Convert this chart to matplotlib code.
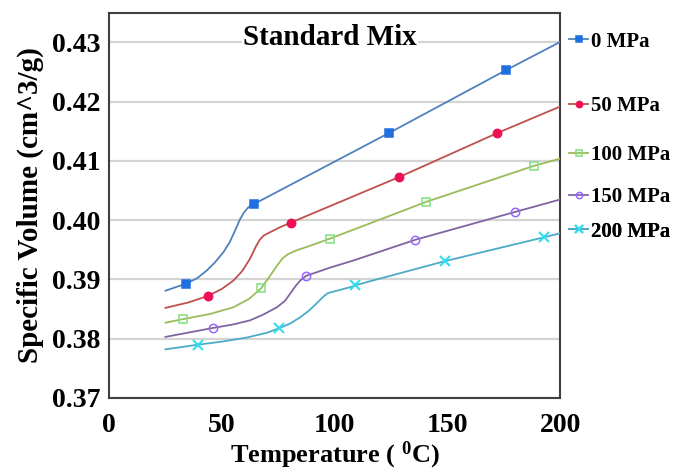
import matplotlib
matplotlib.use('Agg')
import matplotlib.pyplot as plt

plt.rcParams['font.family'] = 'Liberation Serif'
plt.rcParams['font.weight'] = 'bold'
plt.rcParams['axes.labelweight'] = 'bold'
plt.rcParams['mathtext.fontset'] = 'custom'
plt.rcParams['mathtext.rm'] = 'Liberation Serif:bold'
plt.rcParams['mathtext.it'] = 'Liberation Serif:bold'
plt.rcParams['mathtext.bf'] = 'Liberation Serif:bold'

# values
labels = ['0 MPa', '50 MPa', '100 MPa', '150 MPa', '200 MPa']

t_0 = [25, 34.3, 39, 43.3, 47, 50.7, 53.5, 55.8, 58, 59.8, 61.8, 64.1, 124, 175.8, 200]
v_0 = [0.3881, 0.3893, 0.3902, 0.3915, 0.3929, 0.3946, 0.3963, 0.3982, 0.4001, 0.4013,
       0.4022, 0.4027, 0.4147, 0.4253, 0.4301]
m_0 = [1, 11, 12, 13]

t_50 = [25, 35, 43.7, 50, 55.1, 59, 62.5, 65, 66.8, 68.5, 70.5, 75.7, 80.6, 128.7, 172, 200]
v_50 = [0.3852, 0.3861, 0.3872, 0.3884, 0.3898, 0.3914, 0.3935, 0.3955, 0.3967, 0.3974,
        0.3978, 0.3988, 0.3996, 0.4073, 0.4147, 0.4192]
m_50 = [2, 12, 13, 14]

t_100 = [25, 32.8, 45, 55.1, 62, 67.4, 71, 74.4, 77, 79.5, 83, 87.7, 98, 140.6, 188.5, 200]
v_100 = [0.3827, 0.3833, 0.3842, 0.3853, 0.3867, 0.3885, 0.3904, 0.3923, 0.3936, 0.3943,
         0.3949, 0.3955, 0.3969, 0.4031, 0.4092, 0.4104]
m_100 = [1, 5, 12, 13, 14]

t_150 = [25, 45.9, 55, 62.5, 68, 74.4, 78, 80.3, 82.7, 84.7, 87.3, 98, 108.3, 135.8, 180, 200]
v_150 = [0.3803, 0.3818, 0.3824, 0.3831, 0.3840, 0.3853, 0.3864, 0.3876, 0.3889, 0.3898,
         0.3906, 0.3920, 0.3932, 0.3967, 0.4014, 0.4035]
m_150 = [1, 10, 13, 14]

t_200 = [25, 39.6, 50, 61.1, 70, 75.5, 80, 84.7, 88.5, 92.1, 95, 97, 100, 106.9, 109.1,
         115.7, 149, 192.6, 200]
v_200 = [0.3782, 0.3790, 0.3795, 0.3802, 0.3810, 0.3818, 0.3825, 0.3836, 0.3847, 0.3860,
         0.3871, 0.3877, 0.3880, 0.3887, 0.3890, 0.3897, 0.3931, 0.3971, 0.3978]
m_200 = [1, 5, 14, 16, 17]

x_ticks = [0, 50, 100, 150, 200]
y_ticks = [0.37, 0.38, 0.39, 0.40, 0.41, 0.42, 0.43]

series = [(t_0, v_0, m_0), (t_50, v_50, m_50), (t_100, v_100, m_100),
          (t_150, v_150, m_150), (t_200, v_200, m_200)]
line_cols = ['#4f81bd', '#c0504d', '#9bbb59', '#8064a2', '#4bacc6']
mark_cols = ['#1f6fe0', '#ee1155', '#7fe07f', '#9966ff', '#33ddee']
markers = ['s', 'o', 's', 'o', 'x']
filled = [True, True, False, False, True]
leg_y = [0.925, 0.758, 0.631, 0.522, 0.432]

fig = plt.figure(figsize=(6.9, 4.76), dpi=100)
ax = fig.add_axes([0.158, 0.164, 0.654, 0.809])

handles = []
for i, (t, v, m) in enumerate(series):
    face = mark_cols[i] if filled[i] else 'none'
    h, = ax.plot(t, v, color=line_cols[i], lw=1.3, marker=markers[i], markevery=m,
                 markersize=6 if markers[i] != 'x' else 7, markerfacecolor=face,
                 markeredgecolor=mark_cols[i], markeredgewidth=1.1 if markers[i] != 'x' else 1.5,
                 zorder=3)
    handles.append(h)

ax.set_xlim(0, 200)
ax.set_ylim(0.37, 0.435)
ax.set_xticks(x_ticks)
ax.set_yticks(y_ticks)
ax.set_yticklabels(['%.2f' % y for y in y_ticks])
ax.tick_params(length=0, labelsize=20, pad=6)
ax.tick_params(axis='x', pad=11)
ax.yaxis.grid(True, color='#d4d4d4', lw=1.6)
ax.set_axisbelow(True)
for s in ax.spines.values():
    s.set_color('#404040')
    s.set_linewidth(1.5)

ax.set_xlabel('Temperature ( $^{0}$C)', fontsize=19)
ax.xaxis.set_label_coords(0.5, -0.108)
ax.set_ylabel('Specific Volume (cm^3/g)', fontsize=21, labelpad=6)

ax.text(0.49, 0.937, 'Standard Mix', transform=ax.transAxes, fontsize=21,
        ha='center', va='center', zorder=4,
        bbox=dict(facecolor='white', edgecolor='none', pad=1))

for i, h in enumerate(handles):
    lg = ax.legend([h], [labels[i]], loc='center left', bbox_to_anchor=(1.02, leg_y[i]),
                   frameon=False, fontsize=15, handlelength=0.9, handletextpad=0.15,
                   borderpad=0, borderaxespad=0, markerscale=0.75)
    ax.add_artist(lg)

fig.savefig('out.png', dpi=100)
